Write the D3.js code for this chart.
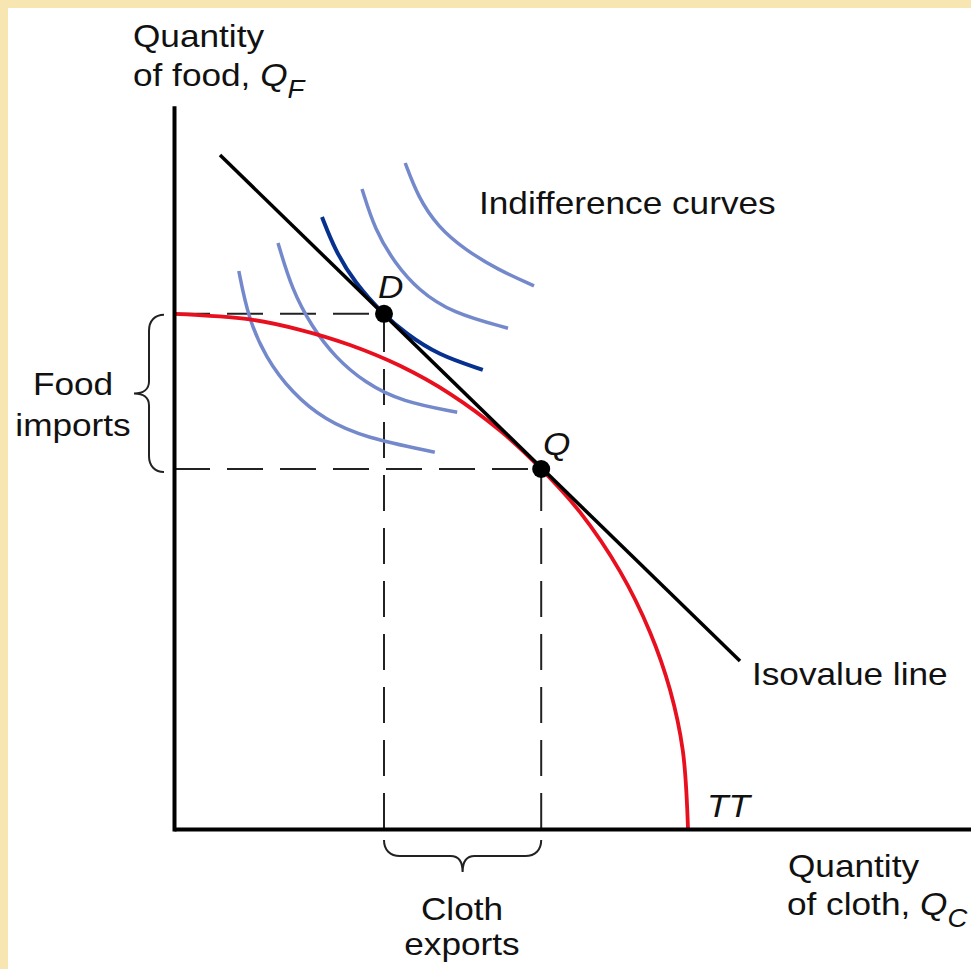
<!DOCTYPE html>
<html>
<head>
<meta charset="utf-8">
<script src="https://cdnjs.cloudflare.com/ajax/libs/d3/7.8.5/d3.min.js"></script>
<style>
  html, body { margin: 0; padding: 0; background: #f8e6b2; }
  svg { display: block; }
  text { font-family: "Liberation Sans", Arial, Helvetica, sans-serif; fill: #111; }
</style>
</head>
<body>
<script>
// ---- Data (units; origin at the axes' corner) ----
const isovalueLine = [[5.75, 84.25], [70.75, 21]];
const pointD = [26.25, 64.4];
const pointQ = [45.9, 45];
const ttCurve = [
  [0, 64.4], [9.5, 63.7], [15.75, 62.4], [22, 60.5], [28.25, 57.9], [34.5, 54.4],
  [40.75, 49.8], [45.9, 45], [50.75, 39.6], [55.75, 32.2], [59.5, 24.6],
  [62, 17.4], [63.6, 9.8], [64.25, 0]
];
const indiff1 = [[8.1, 69.75], [9.25, 64], [11.4, 59], [14.75, 54.5], [18.9, 51.1], [23.9, 48.9], [32.6, 47.1]];
const indiff2 = [[13, 73.25], [14.75, 67.4], [17.25, 62.75], [20.1, 59], [23.9, 55.75], [28.5, 53.4], [35.4, 52.1]];
const indiffD = [[18.5, 76.5], [20.1, 72.4], [22.6, 68.25], [26.25, 64.25], [28.9, 62], [33, 59.25], [38.6, 57.4]];
const indiff4 = [[23.5, 80], [25.1, 74.9], [27.6, 70.75], [30.5, 67.4], [34.75, 64.5], [41.75, 62.6]];
const indiff5 = [[28.9, 83.25], [30.5, 79], [33, 75.25], [36.4, 72.4], [40.5, 69.9], [45, 67.9]];
const lightCurves = [indiff1, indiff2, indiff4, indiff5];
const xAxisExtent = [0, 100];
const yAxisExtent = [-0.25, 90.4];

// ---- Layout ----
const W = 971, H = 969;
const svg = d3.select("body").append("svg").attr("width", W).attr("height", H);
svg.append("rect").attr("x", 8).attr("y", 8).attr("width", W - 8).attr("height", H - 8).attr("fill", "#ffffff");

const x = d3.scaleLinear().domain([0, 100]).range([174, 974]);
const y = d3.scaleLinear().domain([0, 100]).range([829, 29]);

const line = d3.line().x(d => x(d[0])).y(d => y(d[1]));
const smooth = d3.line().x(d => x(d[0])).y(d => y(d[1])).curve(d3.curveBasis);
const through = d3.line().x(d => x(d[0])).y(d => y(d[1])).curve(d3.curveCatmullRom.alpha(0.5));

// Dashed guides (from axes to points)
const dash = "36,17";
[pointD, pointQ].forEach(p => {
  svg.append("path").attr("d", line([[0, p[1]], p]))
    .attr("stroke", "#222").attr("stroke-width", 2).attr("fill", "none").attr("stroke-dasharray", dash);
  svg.append("path").attr("d", line([[p[0], 0], p]))
    .attr("stroke", "#222").attr("stroke-width", 2).attr("fill", "none").attr("stroke-dasharray", dash);
});

// Indifference curves
lightCurves.forEach(c => {
  svg.append("path").attr("d", smooth(c)).attr("fill", "none")
    .attr("stroke", "#7489cc").attr("stroke-width", 3.5);
});
svg.append("path").attr("d", smooth(indiffD)).attr("fill", "none")
  .attr("stroke", "#06318f").attr("stroke-width", 4);

// TT curve
svg.append("path").attr("d", through(ttCurve)).attr("fill", "none")
  .attr("stroke", "#e8101e").attr("stroke-width", 3.8);

// Isovalue line
svg.append("path").attr("d", line(isovalueLine)).attr("fill", "none")
  .attr("stroke", "#000").attr("stroke-width", 3.5);

// Axes (no ticks)
const xAxisScale = x.copy().domain(xAxisExtent).range(xAxisExtent.map(x));
const yAxisScale = y.copy().domain(yAxisExtent).range(yAxisExtent.map(y));
const gx = svg.append("g").attr("transform", `translate(0,${y(0)})`)
  .call(d3.axisBottom(xAxisScale).tickValues([]).tickSizeOuter(0));
const gy = svg.append("g").attr("transform", `translate(${x(0)},0)`)
  .call(d3.axisLeft(yAxisScale).tickValues([]).tickSizeOuter(0));
[gx, gy].forEach(g => g.select(".domain").attr("stroke", "#000").attr("stroke-width", 4));

// Points
[pointD, pointQ].forEach(p => {
  svg.append("circle").attr("cx", x(p[0])).attr("cy", y(p[1])).attr("r", 9).attr("fill", "#000");
});

// Braces
const bTop = y(pointD[1]) + 1, bBot = y(pointQ[1]) + 3, bMid = (bTop + bBot) / 2;
svg.append("path").attr("fill", "none").attr("stroke", "#222").attr("stroke-width", 2)
  .attr("d", `M164,${bTop} C155,${bTop} 149,${bTop + 6} 149,${bTop + 16} L149,${bMid - 12}
    C149,${bMid - 4} 143,${bMid} 134,${bMid} C143,${bMid} 149,${bMid + 4} 149,${bMid + 12}
    L149,${bBot - 16} C149,${bBot - 6} 155,${bBot} 164,${bBot}`);
const cL = x(pointD[0]), cR = x(pointQ[0]), cM = (cL + cR) / 2;
svg.append("path").attr("fill", "none").attr("stroke", "#222").attr("stroke-width", 2)
  .attr("d", `M${cL},840 C${cL},850 ${cL + 6},856 ${cL + 16},856 L${cM - 12},856
    C${cM - 4},856 ${cM},862 ${cM},872 C${cM},862 ${cM + 4},856 ${cM + 12},856
    L${cR - 16},856 C${cR - 6},856 ${cR},850 ${cR},840`);

// Labels
function label(px, py, parts, anchor) {
  const t = svg.append("text")
    .attr("transform", `translate(${px},${py}) scale(1.1,1)`)
    .attr("font-size", 32)
    .attr("text-anchor", anchor || "start");
  parts.forEach(p => {
    const s = t.append("tspan").text(p.t);
    if (p.i) s.attr("font-style", "italic");
    if (p.sub) s.attr("font-size", 25).attr("dy", 12);
  });
  return t;
}
label(133, 47, [{t: "Quantity"}]);
label(133, 86, [{t: "of food, "}, {t: "Q", i: true}, {t: "F", i: true, sub: true}]);
label(479, 214, [{t: "Indifference curves"}]);
label(378, 298, [{t: "D", i: true}]);
label(543, 455, [{t: "Q", i: true}]);
label(73, 395, [{t: "Food"}], "middle");
label(73, 436, [{t: "imports"}], "middle");
label(752, 685, [{t: "Isovalue line"}]);
label(707, 817, [{t: "TT", i: true}]);
label(462, 920, [{t: "Cloth"}], "middle");
label(462, 955, [{t: "exports"}], "middle");
label(788, 877, [{t: "Quantity"}]);
label(787, 915, [{t: "of cloth, "}, {t: "Q", i: true}, {t: "C", i: true, sub: true}]);
</script>
</body>
</html>
